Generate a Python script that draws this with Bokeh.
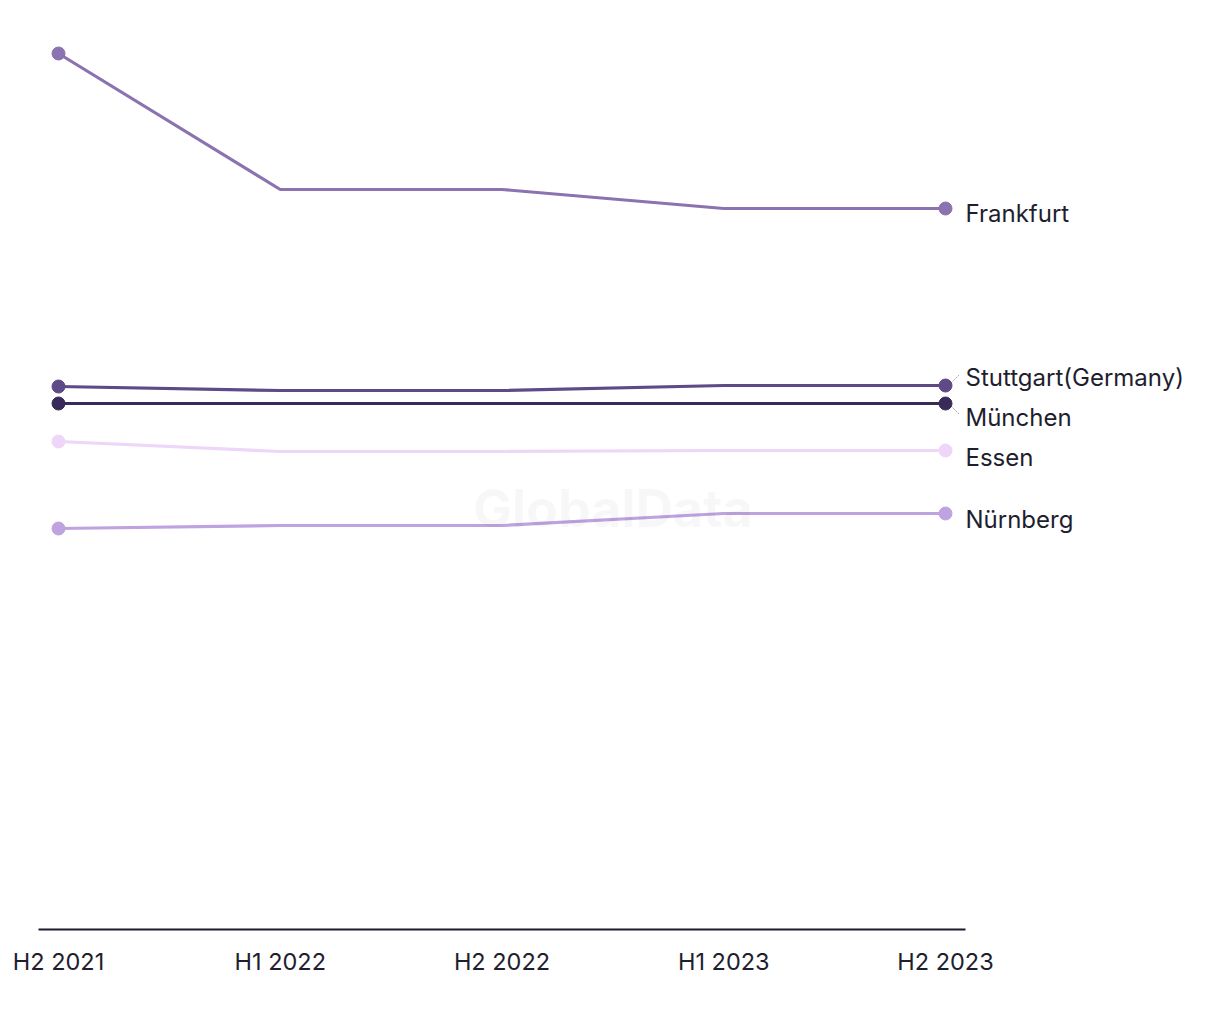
from bokeh.plotting import figure
from bokeh.models import Range1d, FixedTicker, ColumnDataSource, Label
from bokeh.core.properties import value
from bokeh.embed import file_html
from bokeh.resources import INLINE

periods = ["H2 2021", "H1 2022", "H2 2022", "H1 2023", "H2 2023"]
frankfurt = [43.8, 37.0, 37.0, 36.05, 36.05]
stuttgart = [27.15, 26.95, 26.95, 27.2, 27.2]
muenchen = [26.3, 26.3, 26.3, 26.3, 26.3]
essen = [24.4, 23.9, 23.9, 23.95, 23.95]
nuernberg = [20.05, 20.2, 20.2, 20.8, 20.8]

names = ["Frankfurt", "Stuttgart(Germany)", "München", "Essen", "Nürnberg"]
series = [frankfurt, stuttgart, muenchen, essen, nuernberg]
colors = ["#8B72B0", "#5E4A86", "#3A2A5A", "#EED6F9", "#BFA3E0"]
label_offsets = [5, -8, 14, 7, 6]  # pixel offsets for end labels (style)

FONT = "Inter"
PX = 221.75  # pixels per category step

p = figure(width=1200, height=999, output_backend="svg", toolbar_location=None,
           x_range=Range1d(-20 / PX, -20 / PX + 1162 / PX),
           y_range=Range1d(0, 909 / 20),
           min_border_left=38, min_border_right=0, min_border_top=20, min_border_bottom=70)
p.outline_line_color = None
p.grid.visible = False
p.yaxis.visible = False
p.background_fill_color = "white"

xs = list(range(len(periods)))

# watermark
p.add_layout(Label(x=2.5, y=21.05, text="GlobalData", text_align="center", text_baseline="middle",
                   text_font=FONT, text_font_style="bold", text_font_size="52px",
                   text_color="#000000", text_alpha=0.03))

for name, ys, c, off in zip(names, series, colors, label_offsets):
    p.line(xs, ys, line_color=c, line_width=3.2)
    p.scatter([xs[0], xs[-1]], [ys[0], ys[-1]], size=13, fill_color=c, line_color=c)
    src = ColumnDataSource(dict(x=[xs[-1] + 20 / PX], y=[ys[-1]], t=[name]))
    p.text(x="x", y="y", text="t", source=src, y_offset=off, text_font=value(FONT),
           text_font_size="24px", text_color="#1E1E2E", text_baseline="middle", text_align="left")
    if abs(off) > 7 and off != 5:
        lx0 = xs[-1] + 6 / PX
        lx1 = xs[-1] + 13 / PX
        sign = 1 if off > 0 else -1
        p.segment([lx0], [ys[-1] - sign * 3 / 20], [lx1], [ys[-1] - sign * 10 / 20],
                  line_color=c, line_width=1, line_dash="1 2")

ax = p.xaxis[0]
ax.ticker = FixedTicker(ticks=xs)
ax.major_label_overrides = {i: s for i, s in enumerate(periods)}
ax.bounds = (-20 / PX, 4 + 20 / PX)
ax.axis_line_color = "#1A1A2E"
ax.axis_line_width = 2
ax.major_tick_line_color = None
ax.minor_tick_line_color = None
ax.major_label_standoff = 11
ax.major_label_text_font = FONT
ax.major_label_text_font_size = "23.5px"
ax.major_label_text_color = "#1E1E2E"

open("out.html", "w").write(file_html(p, INLINE))
